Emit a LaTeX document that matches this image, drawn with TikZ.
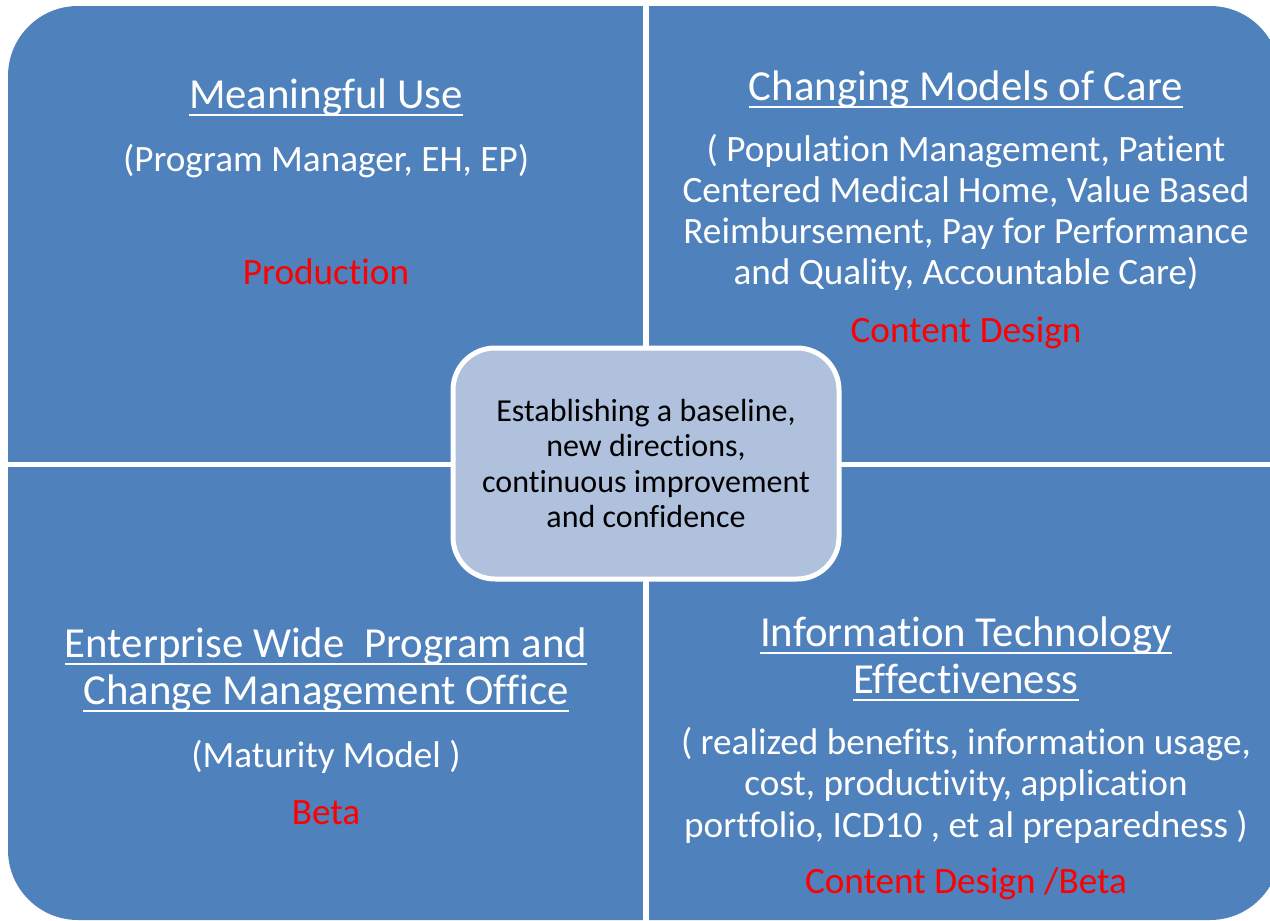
\documentclass[tikz,border=0pt]{standalone}
\usepackage{fontspec}
\setmainfont{Carlito}[Ligatures=NoCommon]
\definecolor{qblue}{HTML}{4F81BD}
\definecolor{cfill}{HTML}{B0C1DD}
\definecolor{tred}{HTML}{FF0000}
\newcommand\myul[1]{\setbox0\hbox{#1}\rlap{\rule[-8pt]{\wd0}{2pt}}\box0}
\tikzset{
  title/.style={inner sep=0pt, anchor=base, text=white, font=\fontsize{42.8}{46}\selectfont},
  body/.style={inner sep=0pt, anchor=base, text=white, font=\fontsize{37.2}{41}\selectfont},
  status/.style={inner sep=0pt, anchor=base, text=tred, font=\fontsize{37.2}{41}\selectfont},
  centerbox/.style={draw=white, line width=5pt, fill=cfill, rounded corners=42pt,
    minimum width=386pt, minimum height=231pt, inner sep=0pt, align=center,
    text=black, font=\fontsize{32}{35.2}\selectfont},
  gap/.style={fill=white}
}
\begin{document}
\begin{tikzpicture}[x=1pt,y=-1pt]
\useasboundingbox (0,0) rectangle (1270,921);
\fill[white] (0,0) rectangle (1270,921);
% quadrants
\fill[qblue, rounded corners=70pt] (8,6) rectangle (1280,920);
\fill[gap] (643,0) rectangle (649,921);
\fill[gap] (0,462) rectangle (1290,467);
% top-left
\node[title] (tl1) at (326,108) {\myul{Meaningful Use}};
\node[body] (tl2) at (326,171) {(Program Manager, EH, EP)};
\node[status] (tl3) at (326,284) {Production};
% top-right
\node[title] (tr1) at (966,100) {\myul{Changing Models of Care}};
\node[body] (tr2) at (966,161) {( Population Management, Patient};
\node[body] (tr3) at (966,202) {Centered Medical Home, Value Based};
\node[body] (tr4) at (966,243) {Reimbursement, Pay for Performance};
\node[body] (tr5) at (966,284) {and Quality, Accountable Care)};
\node[status] (tr6) at (966,342) {Content Design};
% bottom-left
\node[title] (bl1) at (326,657) {\myul{Enterprise Wide\ \ Program and}};
\node[title] (bl2) at (326,704) {\myul{Change Management Office}};
\node[body] (bl3) at (326,767) {(Maturity Model )};
\node[status] (bl4) at (326,824) {Beta};
% bottom-right
\node[title] (br1) at (966,646) {\myul{Information Technology}};
\node[title] (br2) at (966,693) {\myul{Effectiveness}};
\node[body] (br3) at (966,754) {( realized benefits, information usage,};
\node[body] (br4) at (966,795) {cost, productivity, application};
\node[body] (br5) at (966,837) {portfolio, ICD10 , et al preparedness )};
\node[status] (br6) at (966,893) {Content Design /Beta};
% center
\node[centerbox] (core) at (646,463.5) {Establishing a baseline,\\new directions,\\continuous improvement\\and confidence};
\end{tikzpicture}
\end{document}
